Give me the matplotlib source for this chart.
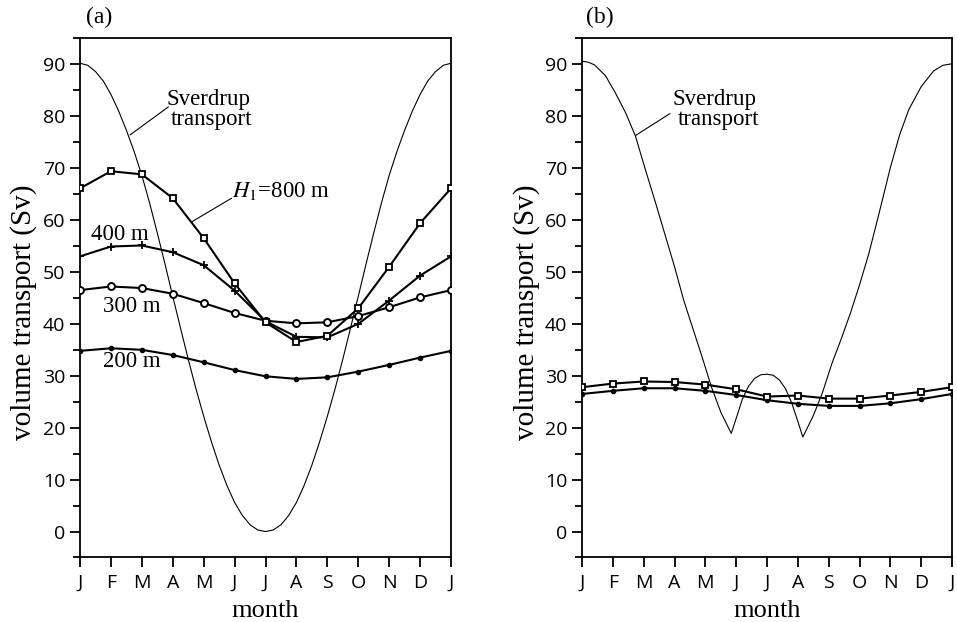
import numpy as np
import matplotlib
matplotlib.use('Agg')
import matplotlib.pyplot as plt

plt.rcParams['font.family'] = 'Liberation Serif'
plt.rcParams['mathtext.fontset'] = 'stix'

months = ['J', 'F', 'M', 'A', 'M', 'J', 'J', 'A', 'S', 'O', 'N', 'D', 'J']
t = np.arange(13)

# (a) transport for different upper layer depths H1
h800 = [66.1, 69.4, 68.8, 64.2, 56.5, 47.8, 40.3, 36.5, 37.7, 43.0, 51.0, 59.4, 66.1]
h400 = [53.0, 54.9, 55.1, 53.8, 51.3, 46.4, 40.5, 37.5, 37.4, 40.0, 44.5, 49.3, 53.0]
h300 = [46.5, 47.2, 46.9, 45.8, 44.0, 42.1, 40.6, 40.1, 40.3, 41.5, 43.2, 45.1, 46.5]
h200 = [34.8, 35.3, 35.0, 34.0, 32.6, 31.1, 29.9, 29.4, 29.7, 30.8, 32.1, 33.5, 34.8]

# (a) Sverdrup transport, read every quarter month
sv_a_t = np.arange(0, 12.01, 0.25)
sv_a = [90.2, 89.8, 88.6, 86.8, 84.2, 81.0, 77.3, 73.2, 68.6, 63.3, 57.5, 51.5,
        45.3, 39.2, 33.2, 27.5, 22.2, 17.3, 12.8, 8.9, 5.6, 3.1, 1.3, 0.3,
        0.0,
        0.3, 1.3, 3.1, 5.6, 8.9, 12.8, 17.3, 22.2, 27.5, 33.2, 39.2, 45.3,
        51.5, 57.5, 63.3, 68.6, 73.2, 77.3, 81.0, 84.2, 86.8, 88.6, 89.8, 90.2]

# (b)
b_sq = [27.8, 28.5, 28.9, 28.8, 28.3, 27.4, 26.0, 26.2, 25.6, 25.6, 26.2, 26.9, 27.8]
b_dot = [26.5, 27.1, 27.6, 27.6, 27.1, 26.3, 25.3, 24.6, 24.2, 24.2, 24.7, 25.5, 26.5]

sv_b_t = [0, 0.2, 0.4, 0.76, 1.08, 1.41, 1.73, 2.05, 2.38, 2.70, 3.0, 3.3, 3.6,
          3.9, 4.2, 4.5, 4.84, 5.0, 5.2, 5.4, 5.6, 5.8, 6.0, 6.2, 6.4, 6.6, 6.8,
          7.0, 7.16, 7.5, 7.8, 8.1, 8.4, 8.7, 9.0, 9.3, 9.6, 10.0, 10.3, 10.6,
          11.0, 11.4, 11.7, 12.0]
sv_b = [90.6, 90.4, 89.9, 87.8, 84.5, 80.7, 76.2, 69.8, 63.4, 57.0, 51.0, 44.5,
        39.0, 33.5, 27.8, 23.0, 18.9, 21.8, 25.5, 28.0, 29.5, 30.2, 30.3, 30.1,
        29.2, 27.5, 24.8, 21.2, 18.2, 22.3, 26.8, 32.3, 37.0, 42.0, 47.5, 53.5,
        60.5, 70.1, 76.4, 81.3, 85.7, 88.7, 89.8, 90.1]

fig = plt.figure(figsize=(9.57, 6.22), dpi=100)
ax1 = fig.add_axes([0.0836, 0.1037, 0.3877, 0.8347])
ax2 = fig.add_axes([0.6082, 0.1037, 0.3866, 0.8347])

lw = 1.5
ax1.plot(sv_a_t, sv_a, color='black', lw=0.8, zorder=2)
ax1.plot(t, h200, color='black', lw=lw, marker='o', ms=3, zorder=3)
ax1.plot(t, h300, color='black', lw=lw, marker='o', ms=5, mfc='white', mew=1.4, zorder=3)
ax1.plot(t, h400, color='black', lw=lw, marker='+', ms=6, mew=1.3, zorder=3)
ax1.plot(t, h800, color='black', lw=lw, marker='s', ms=5, mfc='white', mew=1.3, zorder=4)

ax2.plot(sv_b_t, sv_b, color='black', lw=0.8, zorder=2)
ax2.plot(t, b_dot, color='black', lw=lw, marker='o', ms=3, zorder=3)
ax2.plot(t, b_sq, color='black', lw=lw, marker='s', ms=5, mfc='white', mew=1.3, zorder=4)

for ax in (ax1, ax2):
    ax.set_xlim(0, 12)
    ax.set_ylim(-5, 95)
    ax.set_xticks(t)
    ax.set_xticklabels(months)
    ax.set_yticks(np.arange(0, 91, 10))
    ax.set_yticks(np.arange(-5, 96, 10), minor=True)
    ax.tick_params(axis='both', which='major', direction='out', length=7, width=1.3,
                   labelsize=14, top=False, right=False)
    ax.tick_params(axis='y', which='minor', direction='out', length=5, width=1.3)
    ax.tick_params(axis='x', pad=5)
    ax.tick_params(axis='y', pad=3.5)
    for lab in ax.get_xticklabels() + ax.get_yticklabels():
        lab.set_fontfamily('Open Sans')
    for s in ax.spines.values():
        s.set_linewidth(1.3)
    ax.set_xlabel('month', fontsize=19, labelpad=6)
    ax.set_ylabel('volume transport (Sv)', fontsize=21)
    ax.yaxis.set_label_coords(-0.115, 0.473)

fs = 16.5
line = dict(arrowstyle='-', lw=0.8, shrinkA=0, shrinkB=0)

# annotations (a)
ax1.text(4.14, 82.2, 'Sverdrup', fontsize=fs, ha='center', va='baseline')
ax1.text(4.26, 78.3, 'transport', fontsize=fs, ha='center', va='baseline')
ax1.annotate('', xy=(1.62, 76.4), xytext=(2.86, 81.8), arrowprops=line)
ax1.text(4.93, 64.5, r'$H_1$=800 m', fontsize=fs, ha='left', va='baseline')
ax1.annotate('', xy=(3.6, 59.6), xytext=(4.9, 64.2), arrowprops=line)
ax1.text(1.29, 56.1, '400 m', fontsize=fs, ha='center', va='baseline')
ax1.text(1.66, 42.3, '300 m', fontsize=fs, ha='center', va='baseline')
ax1.text(1.66, 31.7, '200 m', fontsize=fs, ha='center', va='baseline')

# annotations (b)
ax2.text(4.28, 82.1, 'Sverdrup', fontsize=fs, ha='center', va='baseline')
ax2.text(4.41, 78.3, 'transport', fontsize=fs, ha='center', va='baseline')
ax2.annotate('', xy=(1.74, 76.3), xytext=(2.85, 80.5), arrowprops=line)

fig.text(99 / 957, 1 - 17 / 622, '(a)', fontsize=17, ha='center', va='center')
fig.text(600 / 957, 1 - 17 / 622, '(b)', fontsize=17, ha='center', va='center')

fig.savefig('out.png', dpi=100)
